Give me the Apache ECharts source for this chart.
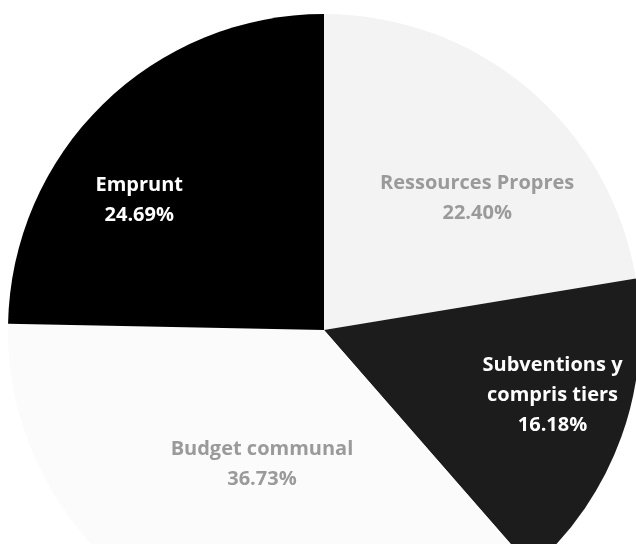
<!DOCTYPE html>
<html>
<head>
<meta charset="utf-8">
<script src="https://cdn.jsdelivr.net/npm/echarts@6/dist/echarts.min.js"></script>
<style>
html,body{margin:0;padding:0;background:#fff;}
#chart{width:636px;height:544px;}
</style>
</head>
<body>
<div id="chart"></div>
<script>
// Data (clockwise from 12 o'clock)
const categories = ['Ressources Propres', 'Subventions y\ncompris tiers', 'Budget communal', 'Emprunt'];
const percentValues = [22.40, 16.18, 36.73, 24.69];

// Styles (kept apart from the data)
const sliceColors = ['#f3f3f3', '#1c1c1c', '#fbfbfb', '#000000'];
const labelColors = ['#9a9a9a', '#ffffff', '#9a9a9a', '#ffffff'];
// Label nudges (px) from the default 'inside' anchor, to match the reference placement
const labelShift = [[49, -9], [77, 11], [6, -12], [-72, -15]];

const chart = echarts.init(document.getElementById('chart'), null, {renderer: 'canvas'});

const seriesData = categories.map((name, i) => ({
  name: name,
  value: percentValues[i],
  itemStyle: {color: sliceColors[i]},
  label: {color: labelColors[i]}
}));

chart.setOption({
  backgroundColor: '#ffffff',
  animation: false,
  series: [{
    type: 'pie',
    center: [324, 330],
    radius: [0, 316],
    startAngle: 90,
    clockwise: true,
    avoidLabelOverlap: false,
    itemStyle: {borderWidth: 0},
    label: {
      show: true,
      position: 'inside',
      fontFamily: 'Open Sans',
      fontWeight: 'bold',
      fontSize: 20,
      lineHeight: 30,
      align: 'center',
      formatter: p => p.name + '\n' + p.value.toFixed(2) + '%'
    },
    labelLine: {show: false},
    labelLayout: function (params) {
      const s = labelShift[params.dataIndex];
      return {dx: s[0], dy: s[1]};
    },
    emphasis: {disabled: true},
    data: seriesData
  }]
});
</script>
</body>
</html>
